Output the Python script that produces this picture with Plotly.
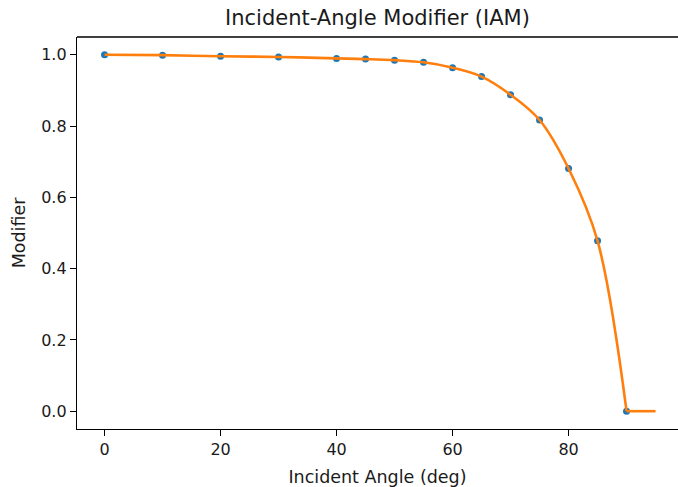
import plotly.graph_objects as go

# Data
angles = [0, 10, 20, 30, 40, 45, 50, 55, 60, 65, 70, 75, 80, 85, 90]
iam = [1.0, 0.999, 0.996, 0.994, 0.990, 0.988, 0.985, 0.979, 0.964, 0.939, 0.888, 0.817, 0.681, 0.478, 0.0]
tail_angles = [90, 95]
tail_iam = [0.0, 0.0]

x_ticks = [0, 20, 40, 60, 80]
y_ticks = [0.0, 0.2, 0.4, 0.6, 0.8, 1.0]

FONT = "DejaVu Sans"
TXT = "#1a1a1a"

fig = go.Figure()
fig.add_trace(go.Scatter(x=angles, y=iam, mode="markers",
                         marker=dict(color="#1f77b4", size=7, line=dict(width=0)),
                         showlegend=False, hoverinfo="skip"))
fig.add_trace(go.Scatter(x=angles, y=iam, mode="lines",
                         line=dict(color="#ff7f0e", width=2.6, shape="spline", smoothing=1.0),
                         showlegend=False))
fig.add_trace(go.Scatter(x=tail_angles, y=tail_iam, mode="lines",
                         line=dict(color="#ff7f0e", width=2.6),
                         showlegend=False))

fig.update_layout(
    width=678, height=487,
    margin=dict(l=77, r=0, t=37, b=58),
    paper_bgcolor="white", plot_bgcolor="white",
    font=dict(family=FONT, color=TXT, size=16),
    title=dict(text="Incident-Angle Modifier (IAM)", x=0.5, xref="paper",
               y=1 - 18 / 487, yref="container", yanchor="middle", xanchor="center",
               font=dict(size=21, family=FONT, color=TXT)),
    xaxis=dict(range=[-4.75, 98.87], tickvals=x_ticks, ticks="outside", ticklen=6,
               tickwidth=1.3, tickcolor="black", showline=True, linecolor="black",
               linewidth=1.3, showgrid=False, zeroline=False,
               tickfont=dict(size=16, family=FONT, color=TXT),
               title=dict(text="Incident Angle (deg)", font=dict(size=17.5, family=FONT, color=TXT),
                          standoff=13)),
    yaxis=dict(range=[-0.05, 1.05], tickvals=y_ticks, tickformat=".1f", ticks="outside",
               ticklen=6, tickwidth=1.3, tickcolor="black", showline=True,
               linecolor="black", linewidth=1.3, showgrid=False, zeroline=False,
               tickfont=dict(size=16, family=FONT, color=TXT),
               title=dict(text="Modifier", font=dict(size=17.5, family=FONT, color=TXT),
                          standoff=11)),
    shapes=[dict(type="line", xref="paper", yref="paper", x0=0, x1=1, y0=1, y1=1,
                 line=dict(color="black", width=1.3))],
)

fig.write_html("out.html")
